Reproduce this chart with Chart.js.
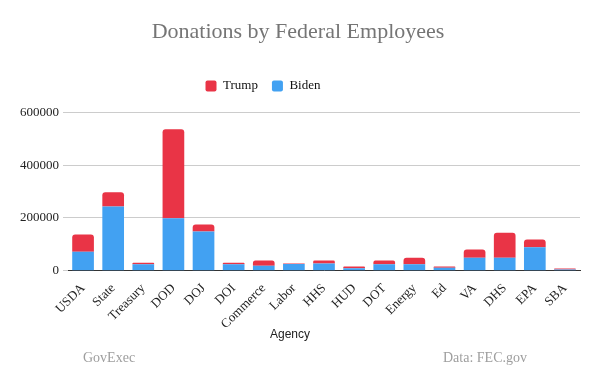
<!DOCTYPE html>
<html>
<head>
<meta charset="utf-8">
<script src="https://cdn.jsdelivr.net/npm/chart.js@4/dist/chart.umd.min.js"></script>
<style>
  html, body { margin: 0; padding: 0; background: #fff; }
  #wrap { width: 600px; height: 371px; position: relative; }
</style>
</head>
<body>
<div id="wrap"><canvas id="chart"></canvas></div>
<script>
// agencies and donation totals (USD)
const agencies = ["USDA", "State", "Treasury", "DOD", "DOJ", "DOI", "Commerce", "Labor", "HHS",
                  "HUD", "DOT", "Energy", "Ed", "VA", "DHS", "EPA", "SBA"];
const biden = [72000, 243000, 24000, 199000, 148000, 24000, 19000, 25000, 27000,
               9000, 24000, 24000, 11000, 49000, 49000, 89000, 4000];
const trump = [65000, 54000, 6000, 337000, 27000, 6000, 19000, 2000, 11000,
               7000, 14000, 25000, 5000, 31000, 95000, 29000, 4000];
const yTicks = [0, 200000, 400000, 600000];

const serif = "'Liberation Serif', 'DejaVu Serif', serif";

// footer + axis title text drawn on the canvas, legend nudged like the original
const extraText = {
  id: 'extraText',
  beforeInit(chart) {
    const lg = chart.legend;
    const fit = lg.fit;
    lg.fit = function () { fit.call(lg); lg.height += 10; };
  },
  afterLayout(chart) {
    chart.legend.left -= 35;
    chart.legend.right -= 35;
  },
  afterDraw(chart) {
    const c = chart.ctx;
    c.save();
    c.textBaseline = 'middle';
    c.fillStyle = '#222';
    c.font = "12px 'Liberation Sans', Arial, sans-serif";
    c.textAlign = 'center';
    c.fillText('Agency', 290, 335);
    c.fillStyle = '#9e9e9e';
    c.font = "14px " + serif;
    c.textAlign = 'left';
    c.fillText('GovExec', 83, 358);
    c.fillText('Data: FEC.gov', 443, 358);
    c.restore();
  }
};

const ctx = document.getElementById('chart').getContext('2d');
new Chart(ctx, {
  type: 'bar',
  data: {
    labels: agencies,
    datasets: [
      {
        label: 'Biden',
        data: biden,
        backgroundColor: '#42a1f2',
        borderWidth: 0
      },
      {
        label: 'Trump',
        data: trump,
        backgroundColor: '#e93446',
        borderWidth: 0,
        borderRadius: { topLeft: 3, topRight: 3, bottomLeft: 0, bottomRight: 0 },
        borderSkipped: 'start'
      }
    ]
  },
  options: {
    responsive: true,
    maintainAspectRatio: false,
    animation: false,
    layout: { padding: { left: 16, right: 20, top: 0, bottom: 37 } },
    plugins: {
      title: {
        display: true,
        text: 'Donations by Federal Employees',
        color: '#757575',
        font: { family: serif, size: 22, weight: 'normal' },
        padding: { top: 19, bottom: 20 }
      },
      legend: {
        display: true,
        reverse: true,
        labels: {
          color: '#111',
          font: { family: serif, size: 13 },
          boxWidth: 11,
          boxHeight: 11,
          useBorderRadius: true,
          borderRadius: 2,
          padding: 14
        }
      },
      tooltip: { enabled: false }
    },
    scales: {
      x: {
        stacked: true,
        categoryPercentage: 1,
        barPercentage: 0.63,
        grid: { display: false },
        border: { display: true, color: '#333', width: 1 },
        ticks: {
          color: '#222',
          font: { family: serif, size: 13 },
          minRotation: 45,
          maxRotation: 45,
          autoSkip: false,
          padding: 2
        }
      },
      y: {
        stacked: true,
        min: 0,
        max: 600000,
        afterBuildTicks: (axis) => { axis.ticks = yTicks.map(v => ({ value: v })); },
        grid: { color: '#cccccc', drawTicks: true, tickLength: 5 },
        border: { display: false },
        ticks: {
          color: '#222',
          font: { family: serif, size: 13 },
          padding: 4,
          callback: (v) => String(v)
        }
      }
    }
  },
  plugins: [extraText]
});
</script>
</body>
</html>
